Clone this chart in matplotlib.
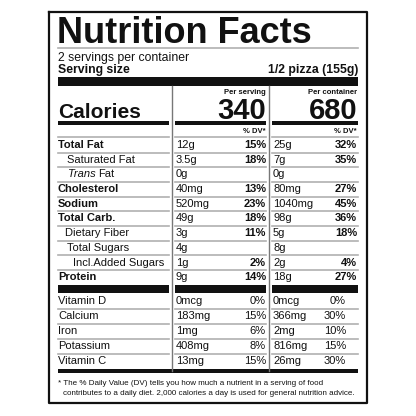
import matplotlib.pyplot as plt

plt.rcParams['font.family'] = ['Liberation Sans', 'DejaVu Sans']

rows = ["Total Fat", "Saturated Fat", "Trans Fat", "Cholesterol", "Sodium",
        "Total Carb.", "Dietary Fiber", "Total Sugars", "Incl.Added Sugars", "Protein"]
bold_rows = [True, False, False, True, True, True, False, False, False, True]
indent = [0, 9, 10, 0, 0, 0, 7, 9, 15, 0]
serv_amt = ["12g", "3.5g", "0g", "40mg", "520mg", "49g", "3g", "4g", "1g", "9g"]
serv_dv = ["15%", "18%", "", "13%", "23%", "18%", "11%", "", "2%", "14%"]
cont_amt = ["25g", "7g", "0g", "80mg", "1040mg", "98g", "5g", "8g", "2g", "18g"]
cont_dv = ["32%", "35%", "", "27%", "45%", "36%", "18%", "", "4%", "27%"]

vits = ["Vitamin D", "Calcium", "Iron", "Potassium", "Vitamin C"]
vit_serv_amt = ["0mcg", "183mg", "1mg", "408mg", "13mg"]
vit_serv_dv = ["0%", "15%", "6%", "8%", "15%"]
vit_cont_amt = ["0mcg", "366mg", "2mg", "816mg", "26mg"]
vit_cont_dv = ["0%", "30%", "10%", "15%", "30%"]

fig = plt.figure(figsize=(4.16, 4.16), dpi=100)
ax = fig.add_axes([0, 0, 1, 1])
ax.set_xlim(0, 416)
ax.set_ylim(416, 0)
ax.axis('off')

K = '#111111'
G = '#b0b0b0'
L, R = 58, 358
C1, C2 = 172, 269

# outer box
ax.plot([49, 367, 367, 49, 49], [12, 12, 403, 403, 12], color=K, lw=1.6)

ax.text(L - 1, 43, "Nutrition Facts", fontsize=26, fontweight='bold', color=K)
ax.plot([L, R], [48, 48], color=G, lw=1.2)
ax.text(L, 61, "2 servings per container", fontsize=8.8, color=K)
ax.text(L, 73, "Serving size", fontsize=8.8, fontweight='bold', color=K)
ax.text(R, 73, "1/2 pizza (155g)", fontsize=8.8, fontweight='bold', color=K, ha='right')
ax.fill_between([L, R], 77, 86, color=K, lw=0)

# column dividers
ax.plot([C1, C1], [86, 371], color='#777777', lw=1)
ax.plot([C2, C2], [86, 371], color='#777777', lw=1)

ax.text(L, 118, "Calories", fontsize=15, fontweight='bold', color=K)
ax.text(266, 94, "Per serving", fontsize=5.5, fontweight='bold', color=K, ha='right')
ax.text(266, 119, "340", fontsize=21, fontweight='bold', color=K, ha='right')
ax.text(357, 94, "Per container", fontsize=5.5, fontweight='bold', color=K, ha='right')
ax.text(357, 119, "680", fontsize=21, fontweight='bold', color=K, ha='right')

segs = [(L, C1 - 3), (C1 + 3, C2 - 3), (C2 + 3, R)]
for a, b in segs:
    ax.fill_between([a, b], 121, 125, color=K, lw=0)
ax.text(266, 133, "% DV*", fontsize=5.5, fontweight='bold', color=K, ha='right')
ax.text(357, 133, "% DV*", fontsize=5.5, fontweight='bold', color=K, ha='right')

def sep(y):
    for a, b in segs:
        ax.plot([a, b], [y, y], color=G, lw=1.2)

sep(137)
y = 145
for i, name in enumerate(rows):
    w = 'bold' if bold_rows[i] else 'normal'
    if name == "Trans Fat":
        ax.text(L + indent[i], y, "Trans", fontsize=8, style='italic', color=K, va='center')
        ax.text(L + indent[i] + 30, y, "Fat", fontsize=8, color=K, va='center')
    else:
        ax.text(L + indent[i], y, name, fontsize=8, fontweight=w, color=K, va='center')
    ax.text(176, y, serv_amt[i], fontsize=8, color=K, va='center')
    ax.text(266, y, serv_dv[i], fontsize=8, fontweight='bold', color=K, va='center', ha='right')
    ax.text(273, y, cont_amt[i], fontsize=8, color=K, va='center')
    ax.text(357, y, cont_dv[i], fontsize=8, fontweight='bold', color=K, va='center', ha='right')
    if i < len(rows) - 1:
        sep(y + 7.5)
    y += 14.7

for a, b in segs:
    ax.fill_between([a, b], 285, 293, color=K, lw=0)

y = 301
for i, name in enumerate(vits):
    ax.text(L, y, name, fontsize=8, color=K, va='center')
    ax.text(176, y, vit_serv_amt[i], fontsize=8, color=K, va='center')
    ax.text(266, y, vit_serv_dv[i], fontsize=8, color=K, va='center', ha='right')
    ax.text(273, y, vit_cont_amt[i], fontsize=8, color=K, va='center')
    ax.text(346, y, vit_cont_dv[i], fontsize=8, color=K, va='center', ha='right')
    if i < len(vits) - 1:
        sep(y + 7.5)
    y += 15

ax.fill_between([L, R], 369, 373, color=K, lw=0)
ax.text(L, 385, "* The % Daily Value (DV) tells you how much a nutrient in a serving of food",
        fontsize=5.8, color=K)
ax.text(L + 5, 395, "contributes to a daily diet. 2,000 calories a day is used for general nutrition advice.",
        fontsize=5.8, color=K)

fig.savefig("out.png", dpi=100)
